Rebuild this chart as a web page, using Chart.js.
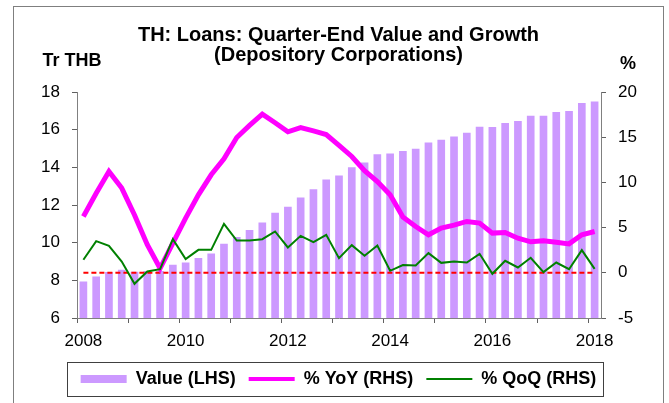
<!DOCTYPE html>
<html>
<head>
<meta charset="utf-8">
<script src="https://cdn.jsdelivr.net/npm/chart.js@4.4.1/dist/chart.umd.min.js"></script>
<style>
  html, body { margin: 0; padding: 0; background: #ffffff; overflow: hidden; }
  #frame {
    position: absolute; left: 13px; top: 6px;
    width: 649px; height: 402px;
    border: 1px solid #7f7f7f; background: #ffffff;
  }
  #box { position: relative; width: 649px; height: 396px; }
</style>
</head>
<body>
<div id="frame"><div id="box"><canvas id="loansChart"></canvas></div></div>
<script>
// 분기 라벨 (2008Q1 ~ 2018Q1)
const quarters = [
    '2008Q1', '2008Q2', '2008Q3', '2008Q4', '2009Q1', '2009Q2', '2009Q3', '2009Q4',
    '2010Q1', '2010Q2', '2010Q3', '2010Q4', '2011Q1', '2011Q2', '2011Q3', '2011Q4',
    '2012Q1', '2012Q2', '2012Q3', '2012Q4', '2013Q1', '2013Q2', '2013Q3', '2013Q4',
    '2014Q1', '2014Q2', '2014Q3', '2014Q4', '2015Q1', '2015Q2', '2015Q3', '2015Q4',
    '2016Q1', '2016Q2', '2016Q3', '2016Q4', '2017Q1', '2017Q2', '2017Q3', '2017Q4',
    '2018Q1'
];

// 대출 잔액 (Tr THB, LHS)
const valueLhs = [
    7.94, 8.21, 8.44, 8.56, 8.45, 8.50, 8.50, 8.83, 8.95, 9.18,
    9.43, 9.94, 10.30, 10.67, 11.07, 11.59, 11.91, 12.40, 12.83, 13.36,
    13.57, 14.00, 14.26, 14.69, 14.74, 14.87, 14.99, 15.32, 15.47, 15.64,
    15.84, 16.16, 16.14, 16.35, 16.46, 16.74, 16.74, 16.94, 16.99, 17.42,
    17.50
];

// 전년 동기 대비 (%, RHS)
const yoyRhs = [
    6.23, 8.8, 11.2, 9.37, 6.4, 3.1, 0.5, 3.28, 6.05, 8.63,
    10.84, 12.6, 14.97, 16.3, 17.55, 16.6, 15.6, 16.07, 15.7, 15.3,
    14.1, 12.87, 11.3, 10.1, 8.63, 6.16, 5.12, 4.2, 4.94, 5.27,
    5.68, 5.5, 4.39, 4.46, 3.83, 3.43, 3.54, 3.39, 3.2, 4.2,
    4.57
];

// 전분기 대비 (%, RHS)
const qoqRhs = [
    1.44, 3.5, 2.99, 1.25, -1.22, 0.15, 0.4, 3.72, 1.51, 2.54,
    2.54, 5.42, 3.57, 3.57, 3.72, 4.57, 2.8, 4.09, 3.39, 4.2,
    1.62, 3.06, 1.88, 3.02, 0.22, 0.85, 0.81, 2.18, 1.1, 1.25,
    1.14, 2.1, -0.11, 1.33, 0.59, 1.66, 0.07, 1.14, 0.4, 2.51,
    0.44
];

// 기준선 (RHS 0%)
const refLevel = 0;

const FONT = '"Liberation Sans", Arial, sans-serif';
Chart.defaults.font.family = FONT;
Chart.defaults.color = '#000000';

// 0% 빨간 점선 - 막대 다음, 선 이전에 그림
const refLinePlugin = {
    id: 'refLine',
    afterDatasetDraw(chart, args) {
        if (args.index !== 0) return;
        const x = chart.scales.x;
        const y1 = chart.scales.y1;
        const ctx = chart.ctx;
        const yPix = y1.getPixelForValue(refLevel);
        ctx.save();
        ctx.strokeStyle = '#ff0000';
        ctx.lineWidth = 2;
        ctx.setLineDash([5, 3]);
        ctx.beginPath();
        ctx.moveTo(x.getPixelForValue(0), yPix);
        ctx.lineTo(x.getPixelForValue(quarters.length - 1), yPix);
        ctx.stroke();
        ctx.restore();
    }
};

// 축 단위 라벨 + 범례 테두리
const extrasPlugin = {
    id: 'extras',
    afterDraw(chart) {
        const ctx = chart.ctx;
        const area = chart.chartArea;
        ctx.save();
        ctx.fillStyle = '#000000';
        ctx.font = 'bold 18px ' + FONT;
        ctx.textAlign = 'center';
        ctx.textBaseline = 'middle';
        ctx.fillText('Tr THB', area.left - 5, 54);
        ctx.fillText('%', area.right + 27, 57);

        const hits = chart.legend.legendHitBoxes;
        if (hits && hits.length) {
            const first = hits[0];
            const last = hits[hits.length - 1];
            const left = first.left - 14;
            const right = last.left + last.width + 6;
            const top = first.top - 8;
            const bottom = first.top + first.height + 8;
            ctx.strokeStyle = '#404040';
            ctx.lineWidth = 1;
            ctx.strokeRect(Math.round(left) + 0.5, Math.round(top) + 0.5,
                Math.round(right - left), Math.round(bottom - top));
        }
        ctx.restore();
    }
};

const ctx = document.getElementById('loansChart').getContext('2d');
new Chart(ctx, {
    type: 'bar',
    data: {
        labels: quarters,
        datasets: [
            {
                type: 'bar',
                label: 'Value (LHS)',
                data: valueLhs,
                yAxisID: 'y',
                backgroundColor: '#cc99ff',
                borderWidth: 0,
                barPercentage: 0.6,
                categoryPercentage: 1.0,
                order: 3
            },
            {
                type: 'line',
                label: '% YoY (RHS)',
                data: yoyRhs,
                yAxisID: 'y1',
                borderColor: '#ff00ff',
                backgroundColor: '#ff00ff',
                borderWidth: 5,
                pointRadius: 0,
                tension: 0,
                order: 2
            },
            {
                type: 'line',
                label: '% QoQ (RHS)',
                data: qoqRhs,
                yAxisID: 'y1',
                borderColor: '#008000',
                backgroundColor: '#008000',
                borderWidth: 2,
                pointRadius: 0,
                tension: 0,
                order: 1
            }
        ]
    },
    options: {
        responsive: true,
        maintainAspectRatio: false,
        animation: false,
        layout: {
            padding: { top: 0, left: 0, right: 0, bottom: 5 }
        },
        plugins: {
            title: {
                display: true,
                text: ['TH: Loans: Quarter-End Value and Growth', '(Depository Corporations)'],
                color: '#000000',
                font: { size: 20, weight: 'bold', lineHeight: 1.0 },
                padding: { top: 18, bottom: 27 }
            },
            legend: {
                position: 'bottom',
                labels: {
                    usePointStyle: true,
                    pointStyleWidth: 46,
                    boxHeight: 8,
                    padding: 13,
                    color: '#000000',
                    font: { size: 18, weight: 'bold' },
                    generateLabels(chart) {
                        const items = Chart.defaults.plugins.legend.labels.generateLabels(chart);
                        items.sort((a, b) => a.datasetIndex - b.datasetIndex);
                        items.forEach(item => {
                            const ds = chart.data.datasets[item.datasetIndex];
                            if (ds.type === 'line') {
                                item.pointStyle = 'line';
                                item.strokeStyle = ds.borderColor;
                                item.lineWidth = ds.borderWidth === 5 ? 4 : 2;
                            } else {
                                item.pointStyle = 'rect';
                                item.lineWidth = 0;
                            }
                        });
                        return items;
                    }
                }
            },
            tooltip: { enabled: false }
        },
        scales: {
            x: {
                type: 'category',
                offset: true,
                afterFit(scale) { scale.height = 39; },
                grid: {
                    offset: true,
                    drawOnChartArea: false,
                    drawTicks: true,
                    tickLength: 5,
                    color: (c) => (c.index % 4 === 0 && c.index < quarters.length) ? '#606060' : 'rgba(0,0,0,0)'
                },
                border: { display: true, color: '#808080', width: 1 },
                ticks: {
                    autoSkip: false,
                    maxRotation: 0,
                    padding: 8,
                    color: '#000000',
                    font: { size: 17 },
                    callback: (v, i) => (i % 8 === 0 ? quarters[i].slice(0, 4) : '')
                }
            },
            y: {
                position: 'left',
                min: 6,
                max: 18,
                afterFit(scale) { scale.width = 63; },
                grid: { drawOnChartArea: false, tickLength: 5, color: '#606060' },
                border: { display: true, color: '#808080', width: 1 },
                ticks: { stepSize: 2, padding: 12, color: '#000000', font: { size: 17 } }
            },
            y1: {
                position: 'right',
                min: -5,
                max: 20,
                afterFit(scale) { scale.width = 62; },
                grid: { drawOnChartArea: false, tickLength: 5, color: '#606060' },
                border: { display: true, color: '#808080', width: 1 },
                ticks: { stepSize: 5, padding: 12, color: '#000000', font: { size: 17 } }
            }
        }
    },
    plugins: [refLinePlugin, extrasPlugin]
});
</script>
</body>
</html>
